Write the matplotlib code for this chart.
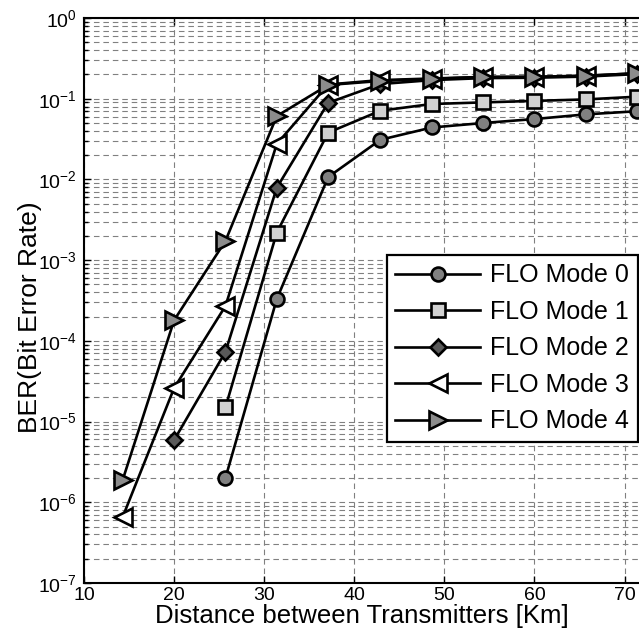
import math
import matplotlib
matplotlib.use("Agg")
import matplotlib.pyplot as plt
from matplotlib.ticker import LogLocator, FixedLocator, NullFormatter, FuncFormatter

plt.rcParams['font.family'] = ['Liberation Sans', 'DejaVu Sans']
plt.rcParams['mathtext.fontset'] = 'custom'
plt.rcParams['mathtext.rm'] = 'Liberation Sans'
plt.rcParams['mathtext.it'] = 'Liberation Sans'
plt.rcParams['mathtext.bf'] = 'Liberation Sans'

# ---- data ----
distance = [14.3, 20.0, 25.7, 31.4, 37.1, 42.9, 48.6, 54.3, 60.0, 65.7, 71.4]

mode0_x = [25.7, 31.4, 37.1, 42.9, 48.6, 54.3, 60.0, 65.7, 71.4]
mode0_y = [2.0e-6, 3.3e-4, 1.07e-2, 3.1e-2, 4.4e-2, 5.0e-2, 5.6e-2, 6.4e-2, 7.0e-2]

mode1_x = [25.7, 31.4, 37.1, 42.9, 48.6, 54.3, 60.0, 65.7, 71.4]
mode1_y = [1.5e-5, 2.2e-3, 3.8e-2, 7.1e-2, 8.6e-2, 9.0e-2, 9.4e-2, 9.8e-2, 1.06e-1]

mode2_x = [20.0, 25.7, 31.4, 37.1, 42.9, 48.6, 54.3, 60.0, 65.7, 71.4]
mode2_y = [5.9e-6, 7.3e-5, 7.9e-3, 8.9e-2, 1.52e-1, 1.70e-1, 1.80e-1, 1.82e-1, 1.88e-1, 2.02e-1]

mode3_x = distance
mode3_y = [6.6e-7, 2.6e-5, 2.7e-4, 2.75e-2, 1.50e-1, 1.70e-1, 1.78e-1, 1.86e-1, 1.86e-1, 1.93e-1, 2.06e-1]

mode4_x = distance
mode4_y = [1.9e-6, 1.8e-4, 1.73e-3, 6.1e-2, 1.48e-1, 1.66e-1, 1.76e-1, 1.86e-1, 1.87e-1, 1.92e-1, 2.07e-1]

labels = ["FLO Mode 0", "FLO Mode 1", "FLO Mode 2", "FLO Mode 3", "FLO Mode 4"]
x_ticks = [10, 20, 30, 40, 50, 60, 70]

# ---- figure ----
fig = plt.figure(figsize=(6.39, 6.42), dpi=100)
ax = fig.add_axes([84/639, 1 - 583/642, (639 - 84)/639, (583 - 18)/642])

series = [
    (mode0_x, mode0_y, 'o', '0.5', 10),
    (mode1_x, mode1_y, 's', '0.82', 10),
    (mode2_x, mode2_y, 'D', '0.35', 8.5),
    (mode3_x, mode3_y, '<', 'white', 12.5),
    (mode4_x, mode4_y, '>', '0.55', 12.5),
]
for (xs, ys, m, fc, ms), lab in zip(series, labels):
    ax.plot(xs, ys, color='black', lw=1.9, marker=m, markersize=ms,
            markerfacecolor=fc, markeredgecolor='black', markeredgewidth=1.9,
            label=lab, zorder=3)

ax.set_yscale('log')
ax.set_ylim(1e-7, 1e0)
ax.set_xlim(10, 71.6)

ax.xaxis.set_major_locator(FixedLocator(x_ticks))
ax.yaxis.set_major_locator(LogLocator(base=10, numticks=20))
ax.yaxis.set_minor_locator(LogLocator(base=10, subs=range(2, 10), numticks=20))
ax.yaxis.set_minor_formatter(NullFormatter())

def fmt(v, pos):
    e = int(round(math.log10(v)))
    return r'$\mathregular{10^{%d}}$' % e
ax.yaxis.set_major_formatter(FuncFormatter(fmt))

ax.grid(True, which='major', axis='both', color='0.5', linestyle=(0, (5, 3.5)), linewidth=0.8)
ax.grid(True, which='minor', axis='y', color='0.5', linestyle=(0, (5, 3.5)), linewidth=0.8)
ax.set_axisbelow(True)

ax.tick_params(which='both', direction='in', top=True, right=False, labelsize=14,
               width=1.0, color='black')
ax.tick_params(which='major', length=5)
ax.tick_params(which='minor', length=3)
ax.tick_params(axis='x', pad=3)
ax.tick_params(axis='y', pad=5)

for s in ['left', 'bottom', 'top']:
    ax.spines[s].set_linewidth(1.5)
ax.spines['right'].set_visible(False)

ax.set_xlabel('Distance between Transmitters [Km]', fontsize=18.5, labelpad=0)
ax.set_ylabel('BER(Bit Error Rate)', fontsize=19)
ax.yaxis.set_label_coords(-0.076, 0.47)

leg = ax.legend(loc='upper right', bbox_to_anchor=(0.998, 0.581), borderaxespad=0,
                fontsize=18, handlelength=3.4, handletextpad=0.4, labelspacing=0.5,
                borderpad=0.35, fancybox=False, framealpha=1, edgecolor='black')
leg.get_frame().set_linewidth(1.6)

fig.savefig('out.png', dpi=100)
